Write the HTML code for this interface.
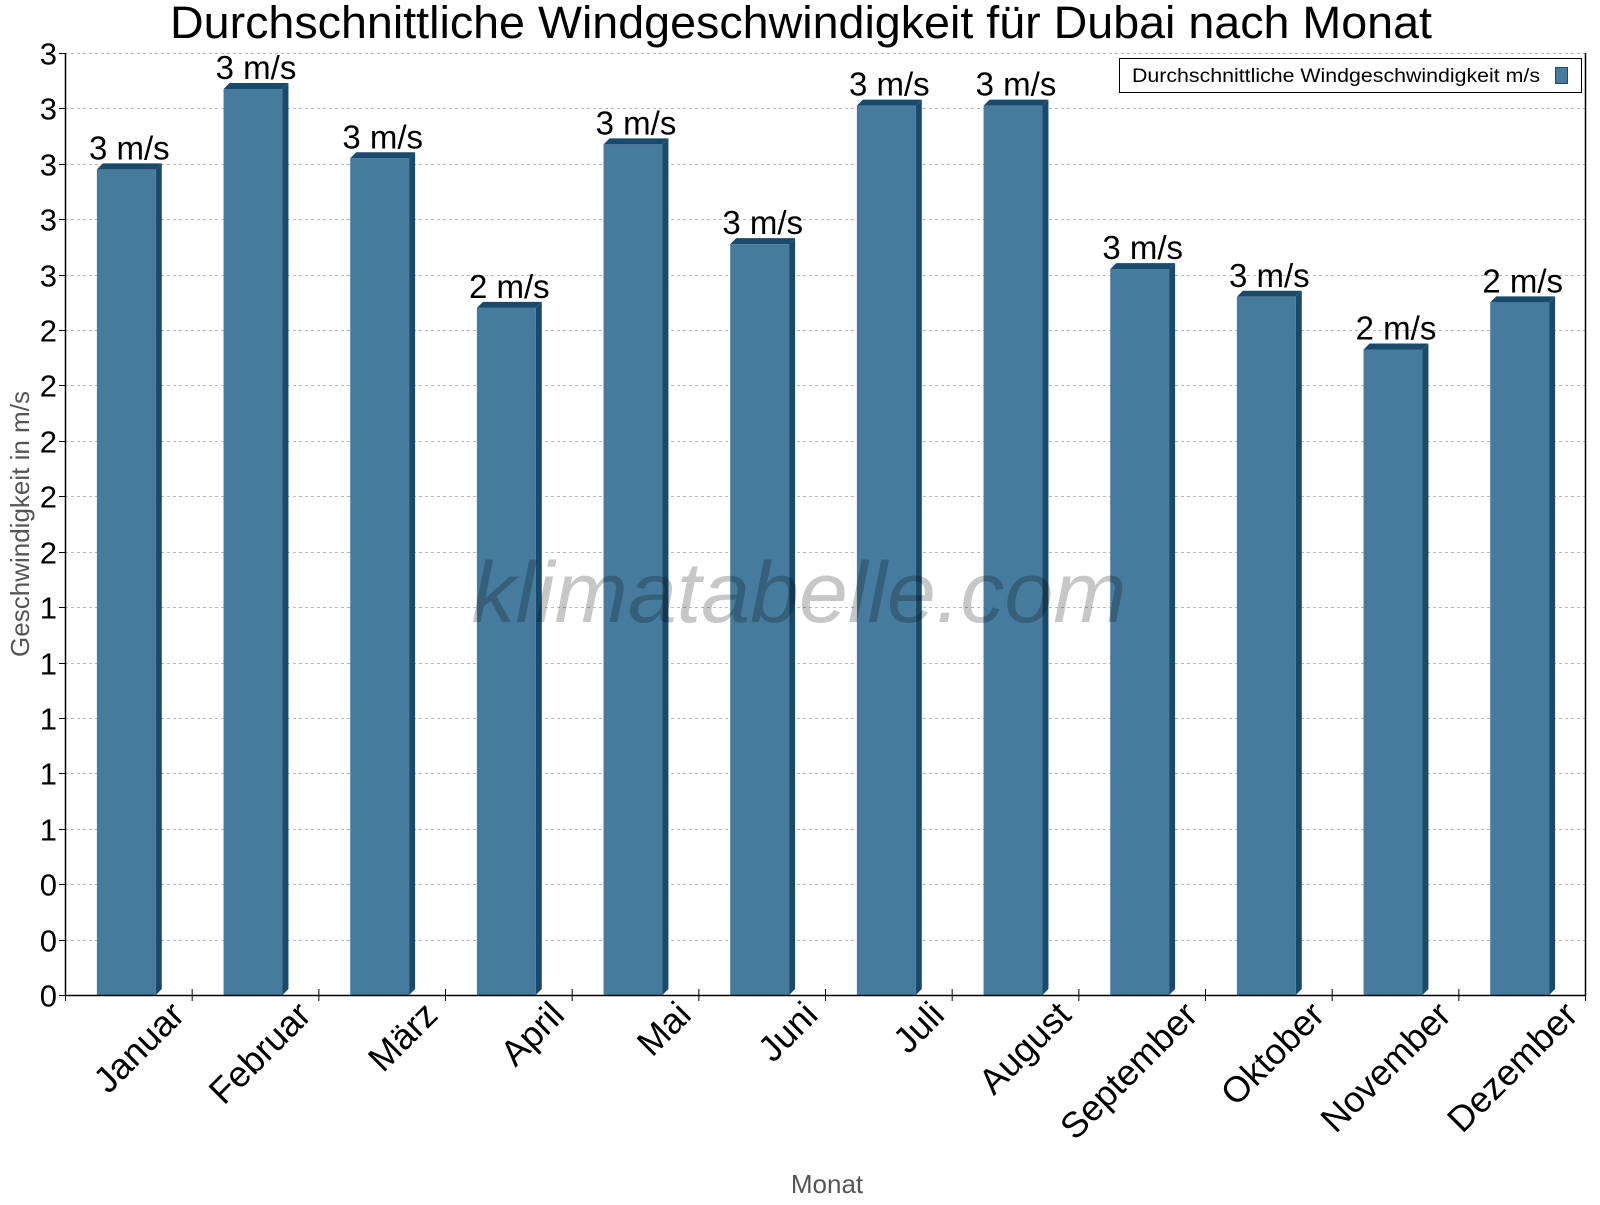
<!DOCTYPE html>
<html><head><meta charset="utf-8"><style>
body{margin:0;background:#fff;}
svg text{font-family:"Liberation Sans",sans-serif;}
</style></head><body>
<svg id="chart" width="1600" height="1200" xmlns="http://www.w3.org/2000/svg">
<text x="801" y="38" font-size="45" text-anchor="middle" fill="#000" textLength="1262" lengthAdjust="spacingAndGlyphs">Durchschnittliche Windgeschwindigkeit für Dubai nach Monat</text>
<g id="grid"></g>
<g id="bars"></g>
<text x="799" y="622" font-size="86" font-style="italic" text-anchor="middle" fill="#000" fill-opacity="0.22" textLength="655" lengthAdjust="spacingAndGlyphs">klimatabelle.com</text>
<g id="axes"></g>
<text transform="translate(29,524) rotate(-90)" font-size="26" text-anchor="middle" fill="#555">Geschwindigkeit in m/s</text>
<text x="827" y="1193" font-size="26" text-anchor="middle" fill="#555">Monat</text>
<g>
<rect x="1119.5" y="58.5" width="462" height="34" fill="#fff" stroke="#000" stroke-width="1"/>
<text x="1132" y="82" font-size="19" fill="#000" textLength="408" lengthAdjust="spacingAndGlyphs">Durchschnittliche Windgeschwindigkeit m/s</text>
<rect x="1555.5" y="67.5" width="12" height="16" fill="#467b9d" stroke="#1a4a6b"/>
</g>
</svg>
<script>
const categories=["Januar","Februar","März","April","Mai","Juni","Juli","August","September","Oktober","November","Dezember"];
const values=[2.98,3.27,3.02,2.48,3.07,2.71,3.21,3.21,2.62,2.52,2.33,2.50];
const valueLabels=["3 m/s","3 m/s","3 m/s","2 m/s","3 m/s","3 m/s","3 m/s","3 m/s","3 m/s","3 m/s","2 m/s","2 m/s"];
const yTicks=[0,0.2,0.4,0.6,0.8,1.0,1.2,1.4,1.6,1.8,2.0,2.2,2.4,2.6,2.8,3.0,3.2,3.4];
const yTickLabels=["0","0","0","1","1","1","1","1","2","2","2","2","2","3","3","3","3","3"];
const NS="http://www.w3.org/2000/svg";
const L=65,R=1585,T=53,B=995,YMAX=3.4;
const y=v=>B-(v/YMAX)*(B-T);
const band=(R-L)/categories.length;
const x=i=>L+band*i;
function mk(tag,attrs,parent){const e=document.createElementNS(NS,tag);for(const k in attrs)e.setAttribute(k,attrs[k]);parent.appendChild(e);return e;}
const grid=document.getElementById('grid'),bars=document.getElementById('bars'),axes=document.getElementById('axes');
yTicks.forEach((t,i)=>{
  const yy=Math.round(y(t))+0.5;
  if(t>0){const g=mk('line',{x1:L,x2:R,y1:yy,y2:yy,stroke:'#bbb','stroke-dasharray':'3,3'},grid);
  
  }
  const tk=mk('line',{x1:L-6,x2:L,y1:yy,y2:yy,stroke:'#000'},axes);
  
  
  const lb=mk('text',{x:L-8,y:yy+11,'font-size':31,'text-anchor':'end',fill:'#000'},axes);
  lb.textContent=yTickLabels[i];
  
  
});
const ax=mk('path',{d:`M${L+0.5},${T} V${B+0.5} H${R+0.5} V${T}`,fill:'none',stroke:'#000','stroke-width':1.5},axes);


const bw=band*0.465,d=6;
categories.forEach((c,i)=>{
  const cx=x(i)+band/2, bx=cx-bw/2-2, top=y(values[i]);
  const g=mk('g',{},bars);
  
  
  mk('rect',{x:bx,y:top,width:bw,height:B-top,fill:'#467b9d'},g);
  mk('polygon',{points:`${bx},${top} ${bx+d},${top-d} ${bx+bw+d},${top-d} ${bx+bw},${top}`,fill:'#1a4a6b'},g);
  mk('polygon',{points:`${bx+bw},${top} ${bx+bw+d},${top-d} ${bx+bw+d},${B-d} ${bx+bw},${B}`,fill:'#1a4a6b'},g);
  const vl=mk('text',{x:cx+1,y:top-10,'font-size':33,'text-anchor':'middle',fill:'#000'},bars);
  vl.textContent=valueLabels[i];
  
  
  const tx=x(i+1)+0.5;
  const tk=mk('line',{x1:tx,x2:tx,y1:B-6,y2:B+6,stroke:'#000'},axes);
  
  
  const xl=mk('text',{transform:`translate(${cx+58},${B+22}) rotate(-45)`,'font-size':36,'text-anchor':'end',fill:'#000'},axes);
  xl.textContent=c;
  
  
});
const t0=mk('line',{x1:L+0.5,x2:L+0.5,y1:B,y2:B+6,stroke:'#000'},axes);


</script>
</body></html>
